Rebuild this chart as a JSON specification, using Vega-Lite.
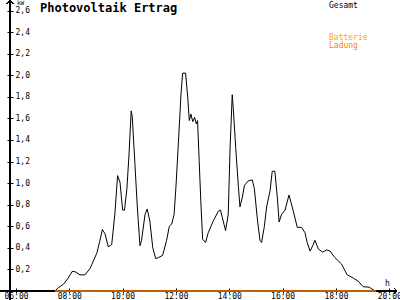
{
  "$schema": "https://vega.github.io/schema/vega-lite/v6.json",
  "width": 387,
  "height": 288,
  "autosize": {"type": "none"},
  "padding": {"left": 10, "top": 3, "right": 3, "bottom": 9},
  "background": "white",
  "config": {"view": {"stroke": null}, "font": "DejaVu Sans Mono"},
  "title": {"text": "Photovoltaik Ertrag", "anchor": "start", "frame": "group", "dx": 30, "offset": -16, "baseline": "top", "font": "DejaVu Sans Mono", "fontSize": 12, "fontWeight": "bold", "color": "#000000"},
  "datasets": {
    "pv": [
      {"hour": 7.46, "kw": 0, "series": "Gesamt"},
      {"hour": 7.58, "kw": 0.03, "series": "Gesamt"},
      {"hour": 7.77, "kw": 0.06, "series": "Gesamt"},
      {"hour": 7.96, "kw": 0.12, "series": "Gesamt"},
      {"hour": 8.10, "kw": 0.18, "series": "Gesamt"},
      {"hour": 8.21, "kw": 0.18, "series": "Gesamt"},
      {"hour": 8.40, "kw": 0.15, "series": "Gesamt"},
      {"hour": 8.59, "kw": 0.15, "series": "Gesamt"},
      {"hour": 8.78, "kw": 0.21, "series": "Gesamt"},
      {"hour": 9.03, "kw": 0.35, "series": "Gesamt"},
      {"hour": 9.15, "kw": 0.47, "series": "Gesamt"},
      {"hour": 9.24, "kw": 0.57, "series": "Gesamt"},
      {"hour": 9.34, "kw": 0.53, "series": "Gesamt"},
      {"hour": 9.46, "kw": 0.41, "series": "Gesamt"},
      {"hour": 9.59, "kw": 0.43, "series": "Gesamt"},
      {"hour": 9.71, "kw": 0.72, "series": "Gesamt"},
      {"hour": 9.81, "kw": 1.07, "series": "Gesamt"},
      {"hour": 9.90, "kw": 1.01, "series": "Gesamt"},
      {"hour": 10.00, "kw": 0.75, "series": "Gesamt"},
      {"hour": 10.07, "kw": 0.75, "series": "Gesamt"},
      {"hour": 10.16, "kw": 0.95, "series": "Gesamt"},
      {"hour": 10.24, "kw": 1.27, "series": "Gesamt"},
      {"hour": 10.32, "kw": 1.67, "series": "Gesamt"},
      {"hour": 10.36, "kw": 1.62, "series": "Gesamt"},
      {"hour": 10.46, "kw": 1.18, "series": "Gesamt"},
      {"hour": 10.55, "kw": 0.78, "series": "Gesamt"},
      {"hour": 10.65, "kw": 0.42, "series": "Gesamt"},
      {"hour": 10.71, "kw": 0.47, "series": "Gesamt"},
      {"hour": 10.84, "kw": 0.71, "series": "Gesamt"},
      {"hour": 10.92, "kw": 0.76, "series": "Gesamt"},
      {"hour": 11.02, "kw": 0.65, "series": "Gesamt"},
      {"hour": 11.13, "kw": 0.40, "series": "Gesamt"},
      {"hour": 11.24, "kw": 0.30, "series": "Gesamt"},
      {"hour": 11.34, "kw": 0.31, "series": "Gesamt"},
      {"hour": 11.50, "kw": 0.33, "series": "Gesamt"},
      {"hour": 11.65, "kw": 0.47, "series": "Gesamt"},
      {"hour": 11.75, "kw": 0.60, "series": "Gesamt"},
      {"hour": 11.84, "kw": 0.62, "series": "Gesamt"},
      {"hour": 11.93, "kw": 0.71, "series": "Gesamt"},
      {"hour": 12.00, "kw": 0.97, "series": "Gesamt"},
      {"hour": 12.09, "kw": 1.37, "series": "Gesamt"},
      {"hour": 12.19, "kw": 1.83, "series": "Gesamt"},
      {"hour": 12.25, "kw": 2.02, "series": "Gesamt"},
      {"hour": 12.36, "kw": 2.02, "series": "Gesamt"},
      {"hour": 12.44, "kw": 1.80, "series": "Gesamt"},
      {"hour": 12.50, "kw": 1.58, "series": "Gesamt"},
      {"hour": 12.56, "kw": 1.64, "series": "Gesamt"},
      {"hour": 12.63, "kw": 1.57, "series": "Gesamt"},
      {"hour": 12.70, "kw": 1.61, "series": "Gesamt"},
      {"hour": 12.76, "kw": 1.55, "series": "Gesamt"},
      {"hour": 12.81, "kw": 1.58, "series": "Gesamt"},
      {"hour": 12.87, "kw": 1.21, "series": "Gesamt"},
      {"hour": 12.93, "kw": 0.84, "series": "Gesamt"},
      {"hour": 13.00, "kw": 0.48, "series": "Gesamt"},
      {"hour": 13.11, "kw": 0.45, "series": "Gesamt"},
      {"hour": 13.21, "kw": 0.54, "series": "Gesamt"},
      {"hour": 13.40, "kw": 0.65, "series": "Gesamt"},
      {"hour": 13.59, "kw": 0.74, "series": "Gesamt"},
      {"hour": 13.67, "kw": 0.75, "series": "Gesamt"},
      {"hour": 13.74, "kw": 0.68, "series": "Gesamt"},
      {"hour": 13.86, "kw": 0.56, "series": "Gesamt"},
      {"hour": 13.96, "kw": 0.71, "series": "Gesamt"},
      {"hour": 14.03, "kw": 1.33, "series": "Gesamt"},
      {"hour": 14.11, "kw": 1.82, "series": "Gesamt"},
      {"hour": 14.15, "kw": 1.69, "series": "Gesamt"},
      {"hour": 14.24, "kw": 1.33, "series": "Gesamt"},
      {"hour": 14.34, "kw": 0.97, "series": "Gesamt"},
      {"hour": 14.40, "kw": 0.78, "series": "Gesamt"},
      {"hour": 14.49, "kw": 0.87, "series": "Gesamt"},
      {"hour": 14.57, "kw": 0.98, "series": "Gesamt"},
      {"hour": 14.71, "kw": 1.02, "series": "Gesamt"},
      {"hour": 14.86, "kw": 1.03, "series": "Gesamt"},
      {"hour": 14.94, "kw": 0.95, "series": "Gesamt"},
      {"hour": 15.06, "kw": 0.65, "series": "Gesamt"},
      {"hour": 15.15, "kw": 0.47, "series": "Gesamt"},
      {"hour": 15.21, "kw": 0.45, "series": "Gesamt"},
      {"hour": 15.31, "kw": 0.59, "series": "Gesamt"},
      {"hour": 15.40, "kw": 0.78, "series": "Gesamt"},
      {"hour": 15.53, "kw": 0.93, "series": "Gesamt"},
      {"hour": 15.61, "kw": 1.11, "series": "Gesamt"},
      {"hour": 15.71, "kw": 1.11, "series": "Gesamt"},
      {"hour": 15.80, "kw": 0.87, "series": "Gesamt"},
      {"hour": 15.87, "kw": 0.64, "series": "Gesamt"},
      {"hour": 15.96, "kw": 0.71, "series": "Gesamt"},
      {"hour": 16.09, "kw": 0.75, "series": "Gesamt"},
      {"hour": 16.24, "kw": 0.89, "series": "Gesamt"},
      {"hour": 16.39, "kw": 0.75, "series": "Gesamt"},
      {"hour": 16.55, "kw": 0.59, "series": "Gesamt"},
      {"hour": 16.71, "kw": 0.59, "series": "Gesamt"},
      {"hour": 16.84, "kw": 0.54, "series": "Gesamt"},
      {"hour": 16.92, "kw": 0.45, "series": "Gesamt"},
      {"hour": 17.03, "kw": 0.37, "series": "Gesamt"},
      {"hour": 17.13, "kw": 0.42, "series": "Gesamt"},
      {"hour": 17.21, "kw": 0.47, "series": "Gesamt"},
      {"hour": 17.34, "kw": 0.39, "series": "Gesamt"},
      {"hour": 17.50, "kw": 0.36, "series": "Gesamt"},
      {"hour": 17.65, "kw": 0.38, "series": "Gesamt"},
      {"hour": 17.78, "kw": 0.37, "series": "Gesamt"},
      {"hour": 17.96, "kw": 0.31, "series": "Gesamt"},
      {"hour": 18.21, "kw": 0.25, "series": "Gesamt"},
      {"hour": 18.42, "kw": 0.15, "series": "Gesamt"},
      {"hour": 18.65, "kw": 0.12, "series": "Gesamt"},
      {"hour": 18.84, "kw": 0.09, "series": "Gesamt"},
      {"hour": 19.02, "kw": 0.04, "series": "Gesamt"},
      {"hour": 19.25, "kw": 0.035, "series": "Gesamt"},
      {"hour": 19.46, "kw": 0, "series": "Gesamt"},
      {"hour": 7.46, "kw": 0, "series": "Ladung"},
      {"hour": 8, "kw": 0, "series": "Ladung"},
      {"hour": 9, "kw": 0, "series": "Ladung"},
      {"hour": 10, "kw": 0, "series": "Ladung"},
      {"hour": 11, "kw": 0, "series": "Ladung"},
      {"hour": 12, "kw": 0, "series": "Ladung"},
      {"hour": 13, "kw": 0, "series": "Ladung"},
      {"hour": 14, "kw": 0, "series": "Ladung"},
      {"hour": 15, "kw": 0, "series": "Ladung"},
      {"hour": 16, "kw": 0, "series": "Ladung"},
      {"hour": 17, "kw": 0, "series": "Ladung"},
      {"hour": 18, "kw": 0, "series": "Ladung"},
      {"hour": 19, "kw": 0, "series": "Ladung"},
      {"hour": 19.5, "kw": 0, "series": "Ladung"}
    ]
  },
  "data": {"name": "pv"},
  "encoding": {
    "x": {"field": "hour", "type": "quantitative",
      "scale": {"domain": [5.775, 20.29], "nice": false, "zero": false},
      "axis": {"values": [6, 8, 10, 12, 14, 16, 18, 20], "labelExpr": "(datum.value < 10 ? '0' : '') + datum.value + ':00'",
        "domain": false, "offset": -3, "tickSize": 5, "tickColor": "#000000", "labelPadding": -1, "labelBaseline": "top",
        "labelFont": "DejaVu Sans Mono", "labelFontSize": 8, "labelColor": "#000000", "labelFlush": false, "labelOverlap": false, "grid": false,
        "title": "h", "titleFont": "DejaVu Sans Mono", "titleFontSize": 8, "titleFontWeight": "normal", "titleColor": "#000000",
        "titleX": 377, "titleY": -5, "titleAlign": "center", "titleBaseline": "middle"}},
    "y": {"field": "kw", "type": "quantitative",
      "scale": {"domain": [0, 2.67], "nice": false},
      "axis": {"values": [0.2, 0.4, 0.6, 0.8, 1.0, 1.2, 1.4, 1.6, 1.8, 2.0, 2.2, 2.4, 2.6], "labelExpr": "replace(format(datum.value, '.1f'), '.', ',')",
        "domain": false, "offset": -3, "tickSize": 6, "tickColor": "#000000", "labelPadding": -8, "labelAlign": "left", "labelBaseline": "middle",
        "labelFont": "DejaVu Sans Mono", "labelFontSize": 8, "labelColor": "#000000", "labelFlush": false, "labelOverlap": false, "grid": false,
        "title": "kW", "titleFont": "DejaVu Sans Mono", "titleFontSize": 6, "titleFontWeight": "normal", "titleColor": "#000000",
        "titleAngle": 0, "titleX": 7, "titleY": -0.8, "titleAlign": "center", "titleBaseline": "middle"}}
  },
  "layer": [
    {
      "mark": {"type": "rule", "color": "#000000", "strokeWidth": 1},
      "encoding": {"x": {"datum": 5.775}, "y": {"datum": -0.09}, "y2": {"datum": 2.69}}
    },
    {
      "mark": {"type": "rule", "color": "#000000", "strokeWidth": 1},
      "encoding": {"y": {"datum": 0}, "x": {"datum": 5.4}, "x2": {"datum": 20.29}}
    },
    {
      "mark": {"type": "point", "shape": "M-1,1L0,0L1,1", "filled": false, "size": 30, "color": "#000000", "strokeWidth": 1, "opacity": 1},
      "encoding": {"x": {"datum": 5.775}, "y": {"datum": 2.69}}
    },
    {
      "mark": {"type": "point", "shape": "M-1,-1L0,0L-1,1", "filled": false, "size": 30, "color": "#000000", "strokeWidth": 1, "opacity": 1},
      "encoding": {"x": {"datum": 20.29}, "y": {"datum": 0}}
    },
    {
      "transform": [{"filter": "datum.series === 'Gesamt'"}],
      "mark": {"type": "line", "strokeWidth": 1},
      "encoding": {
        "color": {"field": "series", "type": "nominal",
          "scale": {"domain": ["Gesamt"], "range": ["#000000"]},
          "legend": {"orient": "none", "legendX": 311, "legendY": -1.5, "title": null, "symbolSize": 0, "symbolStrokeWidth": 0, "symbolOpacity": 0, "labelOffset": 0,
            "labelFont": "DejaVu Sans Mono", "labelFontSize": 8, "labelColor": "#000000"}}
      }
    },
    {
      "transform": [{"filter": "datum.series === 'Ladung'"}],
      "mark": {"type": "line", "strokeWidth": 1.5},
      "encoding": {
        "stroke": {"field": "series", "type": "nominal",
          "scale": {"domain": ["Batterie", "Ladung"], "range": ["#FFA800", "#FF7F00"]},
          "legend": {"orient": "none", "legendX": 311, "legendY": 31, "title": null, "symbolSize": 0, "symbolStrokeWidth": 0, "symbolOpacity": 0, "labelOffset": 0, "rowPadding": 0,
            "labelFont": "DejaVu Sans Mono", "labelFontSize": 8,
            "encode": {"labels": {"update": {"fill": {"scale": "stroke", "field": "value"}}}}}}
      }
    }
  ]
}
